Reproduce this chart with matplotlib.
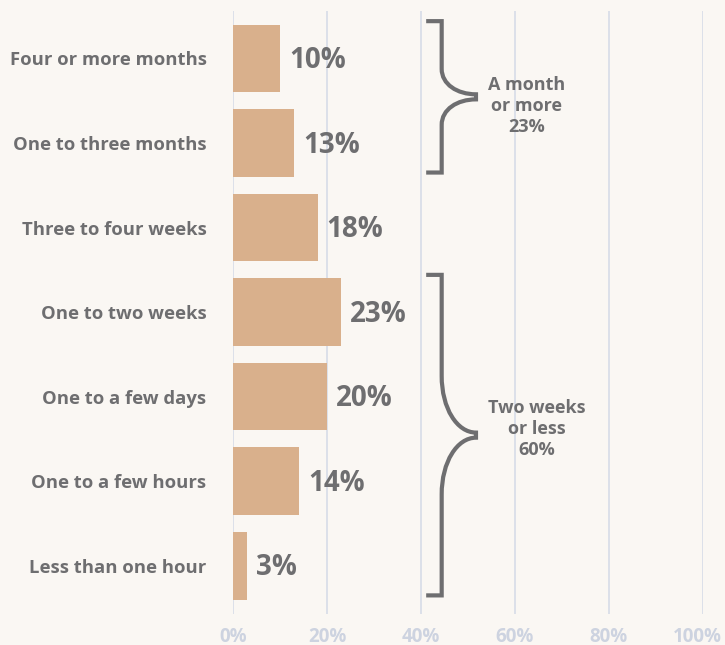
import numpy as np
import matplotlib.pyplot as plt
import matplotlib.transforms as mtransforms
from matplotlib.path import Path
from matplotlib.patches import PathPatch

plt.rcParams['font.family'] = ['Open Sans', 'DejaVu Sans']
plt.rcParams['font.weight'] = 'bold'

categories = ["Four or more months", "One to three months", "Three to four weeks",
              "One to two weeks", "One to a few days", "One to a few hours",
              "Less than one hour"]
values = [10, 13, 18, 23, 20, 14, 3]
ticks = [0, 20, 40, 60, 80, 100]

# groups: (first category, last category, label)
groups = [(0, 1, "A month\nor more\n23%"),
          (3, 6, "Two weeks\nor less\n60%")]
label_shift = [0.11, -0.07]

bg = "#faf7f3"
bar_color = "#d9b08c"
text_color = "#6e6e70"
grid_color = "#d7dce7"
tick_color = "#cdd3e0"

fig = plt.figure(figsize=(7.25, 6.45), dpi=100, facecolor=bg)
ax = fig.add_axes([233/725, 31/645, 470/725, 603/645])
ax.set_facecolor(bg)

y = np.arange(len(categories))
ax.barh(y, values, height=0.8, color=bar_color, zorder=2)
ax.set_xlim(0, 100)
ax.set_ylim(len(categories) - 0.43, -0.56)

for yi, v in zip(y, values):
    ax.annotate(f"{v}%", (v, yi), xytext=(6.5, -1.5), textcoords="offset points",
                ha="left", va="center", fontsize=20, fontweight="bold",
                color=text_color, zorder=3)

ax.set_yticks(y)
ax.set_yticklabels(categories, fontsize=13.3, fontweight="bold", color=text_color)
ax.set_xticks(ticks)
ax.set_xticklabels([f"{t}%" for t in ticks], fontsize=13.5, fontweight="bold",
                   color=tick_color)
ax.tick_params(axis="both", length=0)
ax.tick_params(axis="y", pad=19)
ax.tick_params(axis="x", pad=9)
ax.grid(axis="x", color=grid_color, lw=1.2, zorder=0)
ax.grid(axis="y", visible=False)
for s in ax.spines.values():
    s.set_visible(False)

# keep the last tick label inside the figure
last = ax.get_xticklabels()[-1]
last.set_transform(last.get_transform() +
                   mtransforms.ScaledTranslation(-6/100, 0, fig.dpi_scale_trans))

# braces
x_hook, x_line, x_tip = 41.1, 44.4, 51.7
for (first, last_i, label), shift in zip(groups, label_shift):
    y0 = first - 0.44
    y1 = last_i + 0.35
    ym = (y0 + y1) / 2
    half = (y1 - y0) / 2
    c = 0.37 * half
    nub = 0.03
    k = 0.55
    verts = [(x_hook, y0), (x_line, y0), (x_line, ym - c),
             (x_line, ym - c + k * c), (x_tip - k * (x_tip - x_line), ym - nub), (x_tip, ym - nub),
             (x_tip, ym + nub),
             (x_tip - k * (x_tip - x_line), ym + nub), (x_line, ym + c - k * c), (x_line, ym + c),
             (x_line, y1), (x_hook, y1)]
    codes = [Path.MOVETO, Path.LINETO, Path.LINETO,
             Path.CURVE4, Path.CURVE4, Path.CURVE4,
             Path.LINETO,
             Path.CURVE4, Path.CURVE4, Path.CURVE4,
             Path.LINETO, Path.LINETO]
    ax.add_patch(PathPatch(Path(verts, codes), fill=False, edgecolor=text_color,
                           lw=3, joinstyle="miter", capstyle="butt", zorder=3))
    ax.text(x_tip + 2.6, ym + shift, label, ha="left", va="center", multialignment="center",
            fontsize=13, fontweight="bold", color=text_color, linespacing=1.2, zorder=3)

fig.savefig("out.png", dpi=100, facecolor=bg)
